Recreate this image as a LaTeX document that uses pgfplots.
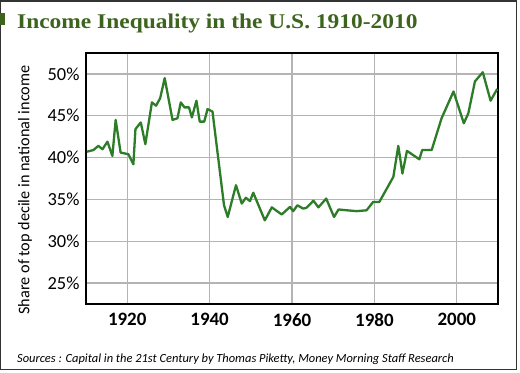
\documentclass[border=0pt]{standalone}
\usepackage{pgfplots}
\pgfplotsset{compat=1.18}
\usepackage{fontspec}
\setmainfont{Carlito}
\newfontfamily\titlefont[FakeStretch=1.12]{Liberation Serif}
\definecolor{titlegreen}{RGB}{61,100,30}
\definecolor{linegreen}{RGB}{45,125,40}
\definecolor{gridgray}{RGB}{180,180,180}
\begin{document}
\begin{tikzpicture}[x=1bp,y=1bp]
\path[use as bounding box, fill=white] (0,0) rectangle (520,372);
\draw[black!80, line width=1.2bp] (0.6,371) rectangle (516.5,2.5);
\fill[titlegreen] (0,347) rectangle (5,359);
\node[anchor=base west, inner sep=0pt, text=titlegreen, font=\titlefont\bfseries\fontsize{21}{24}\selectfont] at (17,344) {Income Inequality in the U.S. 1910-2010};
\node[rotate=90, inner sep=0pt, font=\fontsize{16.3}{18}\selectfont] at (25,182) {Share of top decile in national income};
\node[anchor=base west, inner sep=0pt, font=\itshape\fontsize{12.5}{14}\selectfont] at (17,10) {Sources : Capital in the 21st Century by Thomas Piketty, Money Morning Staff Research};
\begin{axis}[
  at={(86bp,68bp)}, anchor=south west,
  width=412bp, height=251bp, scale only axis,
  xmin=1910, xmax=2010, ymin=22.5, ymax=52.5,
  xtick={1920,1940,1960,1980,2000},
  ytick={25,30,35,40,45,50},
  yticklabel={\pgfmathprintnumber{\tick}\%},
  /pgf/number format/assume math mode=true,
  xticklabel style={font=\bfseries\fontsize{19}{20}\selectfont, yshift=-6bp},
  yticklabel style={font=\fontsize{18.5}{20}\selectfont, xshift=-3bp},
  x tick label style={/pgf/number format/1000 sep={}},
  major tick length=0pt,
  grid=major,
  major grid style={gridgray, line width=1.2bp},
  axis line style={black, line width=1.3bp},
]
\addplot[linegreen, line width=2.3bp, line join=round] coordinates {
(1910.2,40.7) (1911.8,40.9) (1913,41.4) (1914,41.0) (1915.2,41.9) (1916.4,40.2)
(1917.2,44.5) (1918.4,40.6) (1920.3,40.4) (1921.5,39.2) (1922,43.4) (1923.3,44.2)
(1924.4,41.6) (1926,46.6) (1927,46.2) (1928,47.1) (1929.1,49.5) (1931,44.5)
(1932.2,44.7) (1933,46.6) (1933.9,46.0) (1935,46.0) (1935.7,44.8) (1936.8,46.8)
(1937.6,44.3) (1938.7,44.3) (1939.5,45.8) (1940.7,45.5) (1943.5,34.3) (1944.4,32.9)
(1946.4,36.7) (1947.8,34.5) (1948.8,35.2) (1949.8,34.8) (1950.6,35.8) (1953.4,32.5)
(1955.1,34.05) (1957.5,33.2) (1959.5,34.1) (1960.3,33.6) (1961.3,34.3) (1962.7,33.9)
(1963.5,34.0) (1965.2,34.85) (1966.4,34.05) (1968.3,35.1) (1970.2,32.9) (1971.3,33.8)
(1973.3,33.7) (1975.7,33.6) (1978.1,33.7) (1979.7,34.7) (1981.2,34.7) (1984.6,37.7)
(1985.8,41.4) (1986.8,38.1) (1987.9,40.8) (1990.9,39.8) (1991.6,40.9) (1993.9,40.9)
(1996.3,44.7) (1999.2,47.9) (2001.7,44.1) (2002.8,45.3) (2004.4,49.1) (2006.3,50.2)
(2008.2,46.8) (2009.8,48.2)
};
\end{axis}
\end{tikzpicture}
\end{document}
